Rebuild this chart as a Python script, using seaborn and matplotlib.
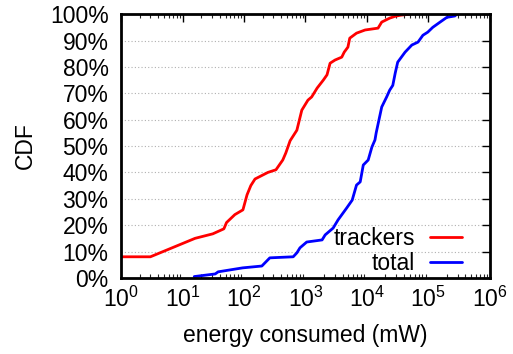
import matplotlib
matplotlib.use("Agg")
import matplotlib.pyplot as plt
import matplotlib.ticker as mticker
import numpy as np
import pandas as pd
import seaborn as sns

# Energy consumed (mW) and cumulative share (%) for each series
trackers_energy = [1.0, 3.0, 16, 31, 47, 52, 71, 96, 112, 129, 151, 245, 331, 427, 479, 562,
                   724, 871, 1096, 1259, 1549, 1950, 2239, 2512, 3020, 3890, 4266, 4898,
                   5248, 6761, 9333, 15136, 17378, 23442, 28840, 35000, 50119]
trackers_cdf = [8, 8, 15, 16.7, 18.6, 21, 24, 25.8, 31.5, 35, 37.5, 40, 41, 44.7, 47.4, 52,
                56, 63.6, 67.4, 68.6, 72, 75, 77, 81.4, 82.6, 83.7, 85.6, 87.5,
                90.9, 92.8, 94, 94.7, 97, 98.5, 99.2, 99.6, 100]

total_energy = [15.5, 34, 38, 95, 195, 263, 631, 724, 813, 1047, 1862, 2089, 2818, 3388,
                4677, 5754, 6761, 7762, 8710, 10471, 12023, 13490, 14125, 17378, 20893,
                23442, 26303, 28840, 31623, 41687, 53703, 67608, 81283, 97724, 117490,
                154882, 199526, 269153, 288403]
total_cdf = [0.5, 1.5, 2.3, 3.8, 4.5, 7.6, 8, 9.5, 11.4, 13.6, 14.4, 16.3, 18.9, 22,
             26.5, 29.5, 35.2, 36.4, 42.8, 44.7, 49.6, 52.3, 55, 64.8, 68.6,
             71.2, 73, 77.7, 81.8, 85.6, 88.3, 89.4, 92, 93.2, 95,
             97, 98.8, 99.3, 100]

y_ticks = list(range(0, 101, 10))

df = pd.concat([
    pd.DataFrame({"energy": trackers_energy, "cdf": trackers_cdf, "series": "trackers"}),
    pd.DataFrame({"energy": total_energy, "cdf": total_cdf, "series": "total"}),
])

sns.set_style("white")
plt.rcParams["font.family"] = ["Liberation Sans", "DejaVu Sans"]
plt.rcParams["text.color"] = "black"
plt.rcParams["axes.labelcolor"] = "black"

fig, ax = plt.subplots(figsize=(5.13, 3.54), dpi=100)
fig.subplots_adjust(left=0.236, right=0.955, top=0.96, bottom=0.215)

sns.lineplot(data=df, x="energy", y="cdf", hue="series", sort=False,
             palette={"trackers": "#ff0000", "total": "#0000ff"},
             linewidth=2.0, ax=ax, legend=True)

ax.set_xscale("log")
ax.set_xlim(1, 1e6)
ax.set_ylim(0, 100)
ax.set_yticks(y_ticks)
ax.yaxis.set_major_formatter(mticker.FuncFormatter(lambda v, p: f"{int(v)}%"))
ax.xaxis.set_major_locator(mticker.LogLocator(base=10, numticks=10))
ax.xaxis.set_minor_locator(mticker.LogLocator(base=10, subs=np.arange(2, 10), numticks=20))
ax.xaxis.set_minor_formatter(mticker.NullFormatter())

ax.grid(axis="y", color="#b0b0b0", linestyle=(0, (1, 2)), linewidth=0.8)
ax.grid(axis="x", visible=False)
ax.set_axisbelow(True)

for s in ax.spines.values():
    s.set_linewidth(2.0)
    s.set_color("black")

ax.tick_params(axis="y", which="major", direction="in", length=6, width=1,
               right=True, labelsize=16.5, pad=9, colors="black")
ax.tick_params(axis="x", which="major", direction="in", length=6, width=1,
               top=True, labelsize=16.5, pad=6, colors="black")
ax.tick_params(axis="x", which="minor", direction="in", length=3, width=0.8,
               top=True, bottom=True)
ax.tick_params(axis="y", which="minor", left=False, right=False)

ax.set_xlabel("energy consumed (mW)", fontsize=16.5, labelpad=9)
ax.set_ylabel("CDF", fontsize=16.5, labelpad=9)

handles, labels = ax.get_legend_handles_labels()
leg = ax.legend(handles, labels, loc="lower right", frameon=False, markerfirst=False,
                fontsize=16.5, handlelength=1.4, handletextpad=0.65, labelspacing=0.08,
                borderpad=0, borderaxespad=0, bbox_to_anchor=(0.924, 0.01))
for line in leg.get_lines():
    line.set_linewidth(2.0)

fig.savefig("out.png", dpi=100)
